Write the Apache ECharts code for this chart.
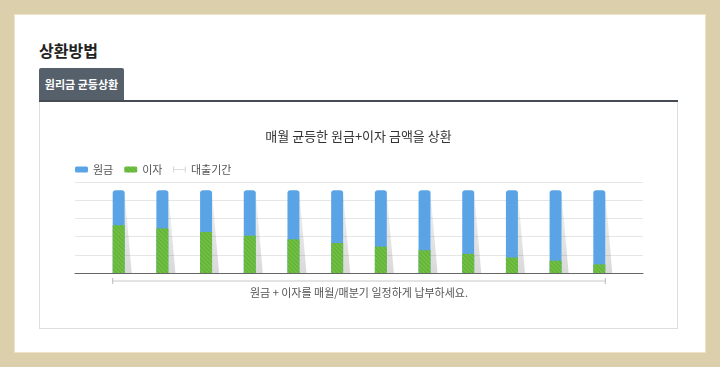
<!DOCTYPE html>
<html><head><meta charset="utf-8">
<script src="https://cdn.jsdelivr.net/npm/echarts@6/dist/echarts.min.js"></script>
<style>
html,body{margin:0;padding:0;width:720px;height:367px;overflow:hidden;background:#dccfab;font-family:'Noto Sans CJK KR',sans-serif;}
#panel{position:absolute;left:14px;top:14px;width:692px;height:339px;background:#fff;border:1px solid #ece3c9;box-sizing:border-box;}
#heading{position:absolute;left:39px;top:38px;font-size:16px;font-weight:bold;color:#222;line-height:24px;}
#tab{position:absolute;left:39px;top:68px;width:85px;height:33px;background:#56606b;color:#fff;font-size:11px;font-weight:bold;line-height:33px;text-align:center;border-radius:2px 2px 0 0;}
#tabline{position:absolute;left:39px;top:100px;width:639px;height:2px;background:#464c53;}
#card{position:absolute;left:39px;top:101px;width:639px;height:228px;border:1px solid #dedede;border-top:none;box-sizing:border-box;}
#chart{position:absolute;left:40px;top:102px;width:637px;height:225px;}
</style>
</head>
<body>
<div id="panel"></div>
<div id="heading">상환방법</div>
<div id="tab">원리금 균등상환</div>
<div id="card"></div>
<div id="tabline"></div>
<div id="chart"></div>
<script>
const chartTitle = '매월 균등한 원금+이자 금액을 상환';
const noteText = '원금 + 이자를 매월/매분기 일정하게 납부하세요.';
const seriesNames = ['원금', '이자', '대출기간'];
const months = [1, 2, 3, 4, 5, 6, 7, 8, 9, 10, 11, 12];
const interest = [52.5, 49, 45, 41, 37, 33, 29, 25, 21, 17, 13.5, 9.5];
const principal = [38.5, 42, 46, 50, 54, 58, 62, 66, 70, 74, 77.5, 81.5];
const loanPeriod = [1, 12];

const FONT = '"Noto Sans CJK KR", sans-serif';
const BLUE = '#5aa4e6';
const GREEN = '#70c142';

const chart = echarts.init(document.getElementById('chart'));
const pairs = (vals) => months.map((m, i) => [m, vals[i]]);
// principal sits on top of interest: its bar spans from 0 to interest+principal, interest drawn over its lower part
const stackedTop = months.map((m, i) => [m, interest[i] + principal[i]]);

chart.setOption({
  animation: false,
  textStyle: { fontFamily: FONT },
  title: {
    text: chartTitle, left: 'center', top: 23,
    textStyle: { fontSize: 13, fontWeight: 'normal', color: '#333', fontFamily: FONT }
  },
  legend: {
    left: 30, top: 57, itemWidth: 13, itemHeight: 6, itemGap: 11,
    textStyle: { fontSize: 11, color: '#555', fontFamily: FONT },
    data: [
      { name: seriesNames[0], icon: 'roundRect' },
      { name: seriesNames[1], icon: 'roundRect' },
      { name: seriesNames[2], icon: 'path://M0,0L1,0L1,10L0,10ZM1,4.5L19,4.5L19,5.5L1,5.5ZM19,0L20,0L20,10L19,10Z' }
    ]
  },
  grid: { left: 35, right: 34, top: 80, height: 91, containLabel: false },
  xAxis: {
    type: 'value', min: 0, max: 13,
    axisLine: { show: true, lineStyle: { color: '#666', width: 1 } },
    axisTick: { show: false }, axisLabel: { show: false }, splitLine: { show: false }
  },
  yAxis: {
    type: 'value', min: 0, max: 100, interval: 20,
    axisLine: { show: false }, axisTick: { show: false }, axisLabel: { show: false },
    splitLine: { show: true, lineStyle: { color: '#e6e6e6', width: 1 } }
  },
  series: [
    {
      type: 'custom', name: 'shadow', data: stackedTop, z: 1, silent: true,
      renderItem(params, api) {
        const m = api.value(0), t = api.value(1);
        const top = api.coord([m, t]), bot = api.coord([m, 0]);
        const xr = top[0] + 6;
        return {
          type: 'polygon',
          shape: { points: [[xr, top[1] + 3], [xr + 7, bot[1]], [xr, bot[1]]] },
          style: {
            fill: new echarts.graphic.LinearGradient(0, 0, 0, 1, [
              { offset: 0, color: 'rgba(0,0,0,0.05)' },
              { offset: 1, color: 'rgba(0,0,0,0.15)' }
            ])
          }
        };
      }
    },
    {
      type: 'bar', name: seriesNames[0], data: stackedTop, barWidth: 12, z: 2,
      itemStyle: { color: BLUE, borderRadius: [3, 3, 0, 0] }
    },
    {
      type: 'bar', name: seriesNames[1], data: pairs(interest), barWidth: 12, barGap: '-100%', z: 3,
      itemStyle: {
        color: GREEN,
        decal: { symbol: 'rect', symbolSize: 1, dashArrayX: [1, 0], dashArrayY: [1, 2], rotation: Math.PI / 4, color: 'rgba(40,100,20,0.22)' }
      }
    },
    {
      type: 'custom', name: seriesNames[2], data: [loanPeriod], clip: false, z: 4,
      itemStyle: { color: '#bbb' },
      renderItem(params, api) {
        const a = api.coord([api.value(0), 0]), b = api.coord([api.value(1), 0]);
        const x1 = a[0] - 6, x2 = b[0] + 6, y = a[1] + 8;
        return {
          type: 'group',
          children: [
            { type: 'line', shape: { x1: x1, y1: y, x2: x2, y2: y }, style: { stroke: '#c8c8c8', lineWidth: 1 } },
            { type: 'line', shape: { x1: x1, y1: y - 3, x2: x1, y2: y + 3 }, style: { stroke: '#bbb', lineWidth: 1 } },
            { type: 'line', shape: { x1: x2, y1: y - 3, x2: x2, y2: y + 3 }, style: { stroke: '#bbb', lineWidth: 1 } },
            { type: 'text', style: { text: noteText, x: (x1 + x2) / 2, y: y + 12, align: 'center', verticalAlign: 'middle', fill: '#555', font: '11px ' + FONT } }
          ]
        };
      }
    }
  ]
});
</script>
</body></html>
